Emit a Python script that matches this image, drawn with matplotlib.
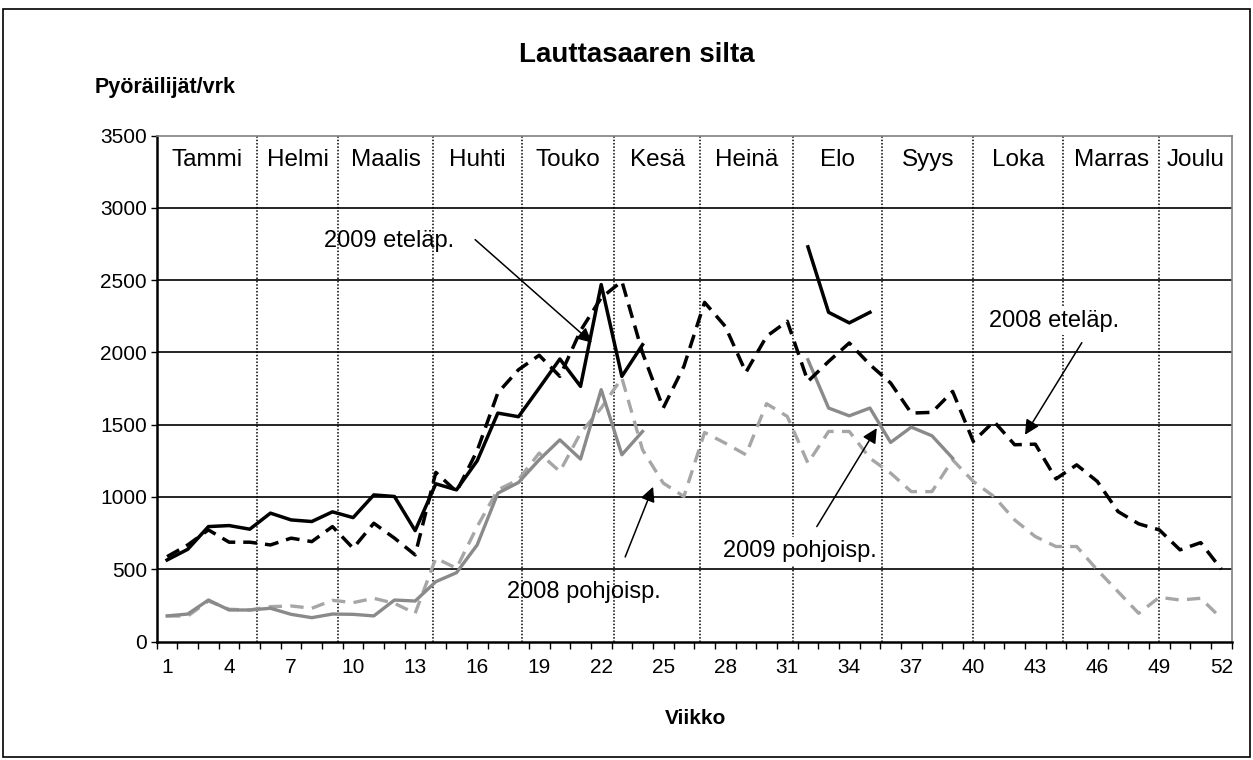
import numpy as np
import matplotlib
matplotlib.use('Agg')
import matplotlib.pyplot as plt
from matplotlib.patches import Rectangle

plt.rcParams['font.family'] = ['Liberation Sans', 'DejaVu Sans']

# =Data
weeks = list(range(1, 53))
week_labels = list(range(1, 53, 3))

south_2009 = [564, 638, 795, 802, 777, 888, 841, 830, 897, 857, 1014, 1003, 767,
              1091, 1049, 1250, 1580, 1555, 1753, 1954, 1765, 2469, 1834, 2053,
              None, None, None, None, None, None, None,
              2730, 2277, 2204, 2277] + [None] * 17
south_2008 = [587, 668, 772, 687, 687, 668, 715, 691, 795, 645, 818, 715, 599,
              1170, 1037, 1320, 1720, 1880, 1980, 1834, 2150, 2377, 2492, 1996,
              1615, 1903, 2346, 2180, 1862, 2111, 2215, 1799, 1937, 2065, 1915,
              1788, 1580, 1585, 1730, 1384, 1522, 1361, 1365, 1125, 1222, 1107,
              899, 814, 772, 634, 684, 500]
north_2008 = [177, 176, 280, 223, 218, 241, 246, 230, 285, 269, 299, 264, 195,
              576, 507, 795, 1049, 1120, 1303, 1176, 1442, 1615, 1823, 1326,
              1096, 1003, 1446, 1372, 1292, 1645, 1557, 1234, 1453, 1453, 1268,
              1165, 1037, 1037, 1257, 1107, 1003, 841, 726, 657, 657, 495,
              345, 195, 306, 287, 299, 160]
north_2009 = [177, 190, 287, 218, 218, 230, 188, 165, 190, 188, 177, 287, 280,
              414, 476, 668, 1026, 1100, 1257, 1395, 1262, 1742, 1292, 1453,
              None, None, None, None, None, None, None,
              1949, 1615, 1561, 1615, 1377, 1483, 1423, 1268] + [None] * 13

months = ['Tammi', 'Helmi', 'Maalis', 'Huhti', 'Touko', 'Kesä',
          'Heinä', 'Elo', 'Syys', 'Loka', 'Marras', 'Joulu']
month_edges = [0.5, 5.34, 9.29, 13.85, 18.16, 22.64, 26.78,
               31.27, 35.6, 40.0, 44.33, 49.0, 52.5]


def arr(v):
    return np.array([np.nan if x is None else x for x in v], dtype=float)


fig = plt.figure(figsize=(12.53, 7.6), dpi=100)
ax = fig.add_axes([0.1251, 0.1559, 0.8579, 0.6658])

# grid + month dividers
for y in range(500, 3500, 500):
    ax.axhline(y, color='black', lw=1.2, zorder=1)
for e in month_edges[1:-1]:
    ax.axvline(e, color='black', lw=1.1, ls=(0, (1, 1.2)), zorder=1)

# lines
ax.plot(weeks, arr(north_2008), color='#a6a6a6', lw=2.4, ls=(0, (4, 2.5)), zorder=3)
ax.plot(weeks, arr(north_2009), color='#8a8a8a', lw=2.4, zorder=3)
ax.plot(weeks, arr(south_2008), color='black', lw=2.5, ls=(0, (4, 2.3)), zorder=4)
ax.plot(weeks, arr(south_2009), color='black', lw=2.5, zorder=4)

# month names
for i, m in enumerate(months):
    ax.text((month_edges[i] + month_edges[i + 1]) / 2, 3330, m,
            ha='center', va='center', fontsize=17.5)

# annotations
fs = 17
arrow = dict(arrowstyle='-|>', color='black', lw=1.1, mutation_scale=22,
             shrinkA=0, shrinkB=0)
ax.text(11.74, 2767, '2009 eteläp.', ha='center', va='center', fontsize=fs, zorder=5)
ax.annotate('', xy=(21.55, 2067), xytext=(15.9, 2780), arrowprops=arrow, zorder=6)
ax.text(43.9, 2218, '2008 eteläp.', ha='center', va='center', fontsize=fs, zorder=5,
        bbox=dict(fc='white', ec='none', pad=2))
ax.annotate('', xy=(42.5, 1430), xytext=(45.25, 2067), arrowprops=arrow, zorder=6)
ax.text(21.17, 343, '2008 pohjoisp.', ha='center', va='center', fontsize=fs, zorder=5)
ax.annotate('', xy=(24.51, 1070), xytext=(23.16, 585), arrowprops=arrow, zorder=6)
ax.text(31.62, 627, '2009 pohjoisp.', ha='center', va='center', fontsize=fs, zorder=5,
        bbox=dict(fc='white', ec='none', pad=2))
ax.annotate('', xy=(35.33, 1476), xytext=(32.43, 795), arrowprops=arrow, zorder=6)

# axes
ax.set_xlim(0.5, 52.5)
ax.set_ylim(0, 3500)
ax.set_yticks(range(0, 3501, 500))
ax.set_xticks(week_labels)
ax.set_xticks(np.arange(0.5, 53, 1), minor=True)
ax.tick_params(axis='x', which='major', length=0, pad=12, labelsize=15)
ax.tick_params(axis='x', which='minor', length=5, width=1, direction='out')
ax.tick_params(axis='y', length=4, width=1, pad=3, labelsize=15)
for s in ['top', 'right']:
    ax.spines[s].set_color('#808080')
    ax.spines[s].set_linewidth(1.2)
ax.spines['left'].set_linewidth(1.8)
ax.spines['bottom'].set_linewidth(1.8)

fig.text(0.508, 0.928, 'Lauttasaaren silta', ha='center', va='center',
         fontsize=20, fontweight='bold')
fig.text(0.0758, 0.8855, 'Pyöräilijät/vrk', ha='left', va='center',
         fontsize=15.5, fontweight='bold')
fig.text(0.555, 0.055, 'Viikko', ha='center', va='center',
         fontsize=15, fontweight='bold')

fig.patches.append(Rectangle((0.0024, 0.004), 0.995, 0.984, transform=fig.transFigure,
                             fill=False, ec='black', lw=1.2))

fig.savefig('out.png', dpi=100)
